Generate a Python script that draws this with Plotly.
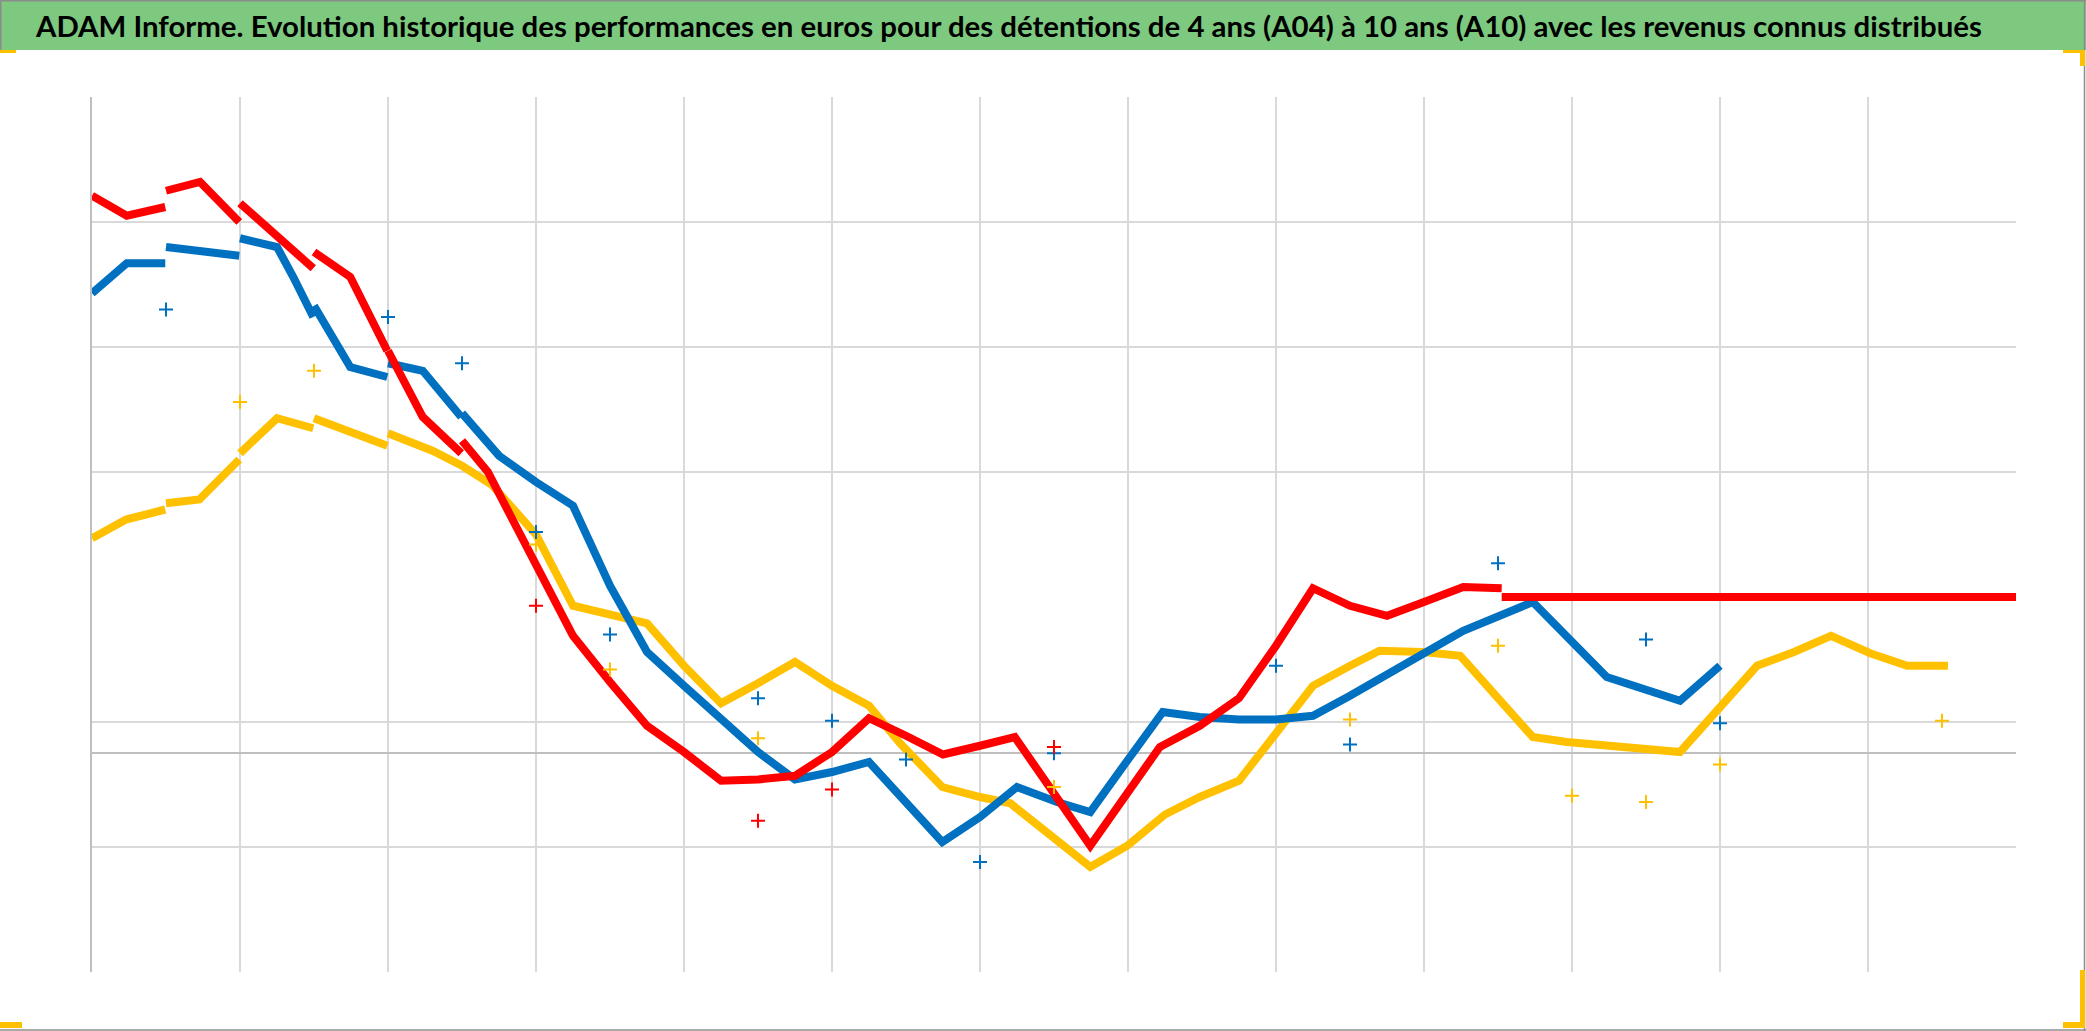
import plotly.graph_objects as go

# ---------------- data (x = years since start, y = thousands of euros) ----------------
red_x = [0, 0.47, 0.99, None,
         1.0, 1.46, 1.99, None,
         2.0, 2.99, None,
         3.0, 3.49, 3.99, None,
         4.0, 4.47, 4.99, None,
         5.0, 5.35, 5.7, 6.0, 6.5, 7.0, 7.5, 8.0, 8.5, 9.0, 9.5, 10.0, 10.5, 11.0, 11.5,
         12.0, 12.47, 13.49, 14.43, 14.97, 15.5, 16.0, 16.5, 17.0, 17.5, 18.0, 18.53, 19.05, None,
         19.05, 26.0]
red_y = [4.46, 4.30, 4.37, None,
         4.50, 4.57, 4.25, None,
         4.40, 3.88, None,
         4.01, 3.81, 3.22, None,
         3.22, 2.69, 2.40, None,
         2.50, 2.25, 1.85, 1.50, 0.94, 0.57, 0.22, 0.01, -0.22, -0.21, -0.18, 0.01, 0.28, 0.14, -0.01,
         0.06, 0.13, -0.74, 0.05, 0.22, 0.44, 0.86, 1.32, 1.18, 1.10, 1.21, 1.33, 1.32, None,
         1.25, 1.25]

blue_x = [0, 0.47, 0.99, None,
          1.0, 1.46, 1.99, None,
          2.0, 2.5, 2.72, 2.99, None,
          3.0, 3.49, 3.99, None,
          4.0, 4.47, 4.99, None,
          5.0, 5.5, 6.0, 6.5, 7.0, 7.5, 8.0, 8.5, 9.0, 9.5, 10.0, 10.5, 10.92, 11.49, 12.0,
          12.5, 13.04, 13.49, 13.99, 14.47, 14.97, 15.5, 16.0, 16.5, 17.0, 17.4, 17.99, 18.53,
          19.47, 20.47, 21.46, 22.0]
blue_y = [3.68, 3.92, 3.92, None,
          4.05, 4.02, 3.98, None,
          4.12, 4.05, 3.81, 3.49, None,
          3.58, 3.09, 3.01, None,
          3.12, 3.06, 2.69, None,
          2.72, 2.38, 2.17, 1.98, 1.34, 0.81, 0.54, 0.28, 0.01, -0.21, -0.15, -0.07, -0.35, -0.71, -0.51,
          -0.27, -0.39, -0.47, -0.06, 0.33, 0.29, 0.27, 0.27, 0.30, 0.46, 0.60, 0.80, 0.98,
          1.21, 0.61, 0.42, 0.70]

yellow_x = [0, 0.46, 0.99, None,
            1.0, 1.45, 1.99, None,
            2.0, 2.5, 2.99, None,
            3.0, 3.99, None,
            4.0, 4.6, 5.0, 5.4, 5.7, 6.0, 6.5, 7.0, 7.5, 8.0, 8.5, 9.0, 9.5, 10.0, 10.5, 10.92,
            11.49, 12.0, 12.41, 13.49, 13.99, 14.5, 14.97, 15.5, 16.0, 16.5, 17.0, 17.4, 17.99,
            18.49, 19.47, 19.93, 21.46, 22.0, 22.5, 23.0, 23.5, 24.03, 24.53, 25.08]
yellow_y = [1.72, 1.87, 1.95, None,
            2.00, 2.03, 2.35, None,
            2.40, 2.68, 2.60, None,
            2.68, 2.46, None,
            2.56, 2.42, 2.30, 2.15, 1.95, 1.75, 1.18, 1.11, 1.04, 0.70, 0.40, 0.56, 0.73, 0.54, 0.38, 0.08,
            -0.27, -0.35, -0.40, -0.91, -0.74, -0.49, -0.35, -0.22, 0.17, 0.54, 0.70, 0.82, 0.81,
            0.78, 0.13, 0.09, 0.01, 0.38, 0.70, 0.81, 0.94, 0.80, 0.70, 0.70]

# distributed income points (one per year)
red_inc_x = [6.0, 9.0, 10.0, 13.0]
red_inc_y = [1.18, -0.54, -0.29, 0.05]
blue_inc_x = [1.0, 4.0, 5.0, 6.0, 7.0, 9.0, 10.0, 11.0, 12.0, 13.0, 16.0, 17.0, 19.0, 21.0, 22.0]
blue_inc_y = [3.55, 3.49, 3.12, 1.77, 0.95, 0.44, 0.26, -0.05, -0.87, 0.0, 0.70, 0.07, 1.52, 0.91, 0.24]
yellow_inc_x = [2.0, 3.0, 6.0, 7.0, 9.0, 13.0, 17.0, 19.0, 20.0, 21.0, 22.0, 25.0]
yellow_inc_y = [2.81, 3.06, 1.67, 0.67, 0.12, -0.27, 0.27, 0.86, -0.34, -0.39, -0.09, 0.26]

x_grid = [2, 4, 6, 8, 10, 12, 14, 16, 18, 20, 22, 24]
y_grid = [-1.75, -0.75, 0.25, 2.25, 3.25, 4.25, 5.25]

TITLE = ("ADAM Informe. Evolution historique des performances en euros pour des détentions "
         "de 4 ans (A04) à 10 ans (A10) avec les revenus connus distribués")

RED, BLUE, YELLOW = "#FF0000", "#0070C0", "#FFC000"

# ---------------- figure ----------------
W, H = 2086, 1031
L, R, T, B = 92, 70, 97, 59
PW, PH = W - L - R, H - T - B


def px(x):
    return (x - L) / PW


def py(y):
    return (H - B - y) / PH


fig = go.Figure()

for name, xs, ys, c in [("A10", yellow_x, yellow_y, YELLOW),
                        ("A07", blue_x, blue_y, BLUE),
                        ("A04", red_x, red_y, RED)]:
    fig.add_trace(go.Scatter(x=xs, y=ys, mode="lines", name=name,
                             line=dict(color=c, width=8), connectgaps=False))

for name, xs, ys, c in [("Revenus A10", yellow_inc_x, yellow_inc_y, YELLOW),
                        ("Revenus A07", blue_inc_x, blue_inc_y, BLUE),
                        ("Revenus A04", red_inc_x, red_inc_y, RED)]:
    fig.add_trace(go.Scatter(x=xs, y=ys, mode="markers", name=name,
                             marker=dict(symbol="cross-thin", size=10,
                                         line=dict(color=c, width=2))))

shapes = []
# green title bar
shapes.append(dict(type="rect", xref="paper", yref="paper",
                   x0=px(0), x1=px(W), y0=py(50), y1=py(0),
                   fillcolor="#7DC97F", line=dict(width=0), layer="below"))
# outer border
shapes.append(dict(type="line", xref="paper", yref="paper", x0=px(0), x1=px(W), y0=py(0.75), y1=py(0.75),
                   line=dict(color="#8c8c8c", width=1.5)))
shapes.append(dict(type="line", xref="paper", yref="paper", x0=px(0), x1=px(W), y0=py(1030), y1=py(1030),
                   line=dict(color="#8c8c8c", width=1.5)))
shapes.append(dict(type="line", xref="paper", yref="paper", x0=px(2084.5), x1=px(2084.5), y0=py(0), y1=py(H),
                   line=dict(color="#8c8c8c", width=1.5)))
shapes.append(dict(type="line", xref="paper", yref="paper", x0=px(0.75), x1=px(0.75), y0=py(0), y1=py(50),
                   line=dict(color="#8c8c8c", width=1.5)))
# orange selection handles
for (x0, x1, y0, y1) in [(0, 16, 50, 53), (2063, 2085, 50, 53), (2080, 2085, 50, 66),
                         (0, 22, 1022, 1028), (2080, 2085, 970, 1028), (2063, 2085, 1022, 1028)]:
    shapes.append(dict(type="rect", xref="paper", yref="paper",
                       x0=px(x0), x1=px(x1), y0=py(y1), y1=py(y0),
                       fillcolor="#FFC000", line=dict(width=0)))

fig.update_layout(
    width=W, height=H,
    margin=dict(l=L, r=R, t=T, b=B, pad=0),
    paper_bgcolor="white", plot_bgcolor="white",
    showlegend=False,
    shapes=shapes,
    annotations=[dict(text="<b>" + TITLE + "</b>", xref="paper", yref="paper",
                      x=px(1008), y=py(26), xanchor="center", yanchor="middle",
                      showarrow=False,
                      font=dict(family="Lato, Open Sans, sans-serif", size=29.4, color="black"))],
    xaxis=dict(range=[0, 26], tickvals=x_grid, showticklabels=False, ticks="",
               showgrid=True, gridcolor="#d9d9d9", gridwidth=1.5,
               zeroline=False, showline=False, fixedrange=True),
    yaxis=dict(range=[-1.75, 5.25], tickvals=y_grid, showticklabels=False, ticks="",
               showgrid=True, gridcolor="#d9d9d9", gridwidth=1.5,
               zeroline=True, zerolinecolor="#bfbfbf", zerolinewidth=2,
               showline=True, linecolor="#bfbfbf", linewidth=2, fixedrange=True),
)

fig.write_html("out.html",
               config={"displayModeBar": False},
               post_script="document.body.style.margin='0';document.body.style.overflow='hidden';")
